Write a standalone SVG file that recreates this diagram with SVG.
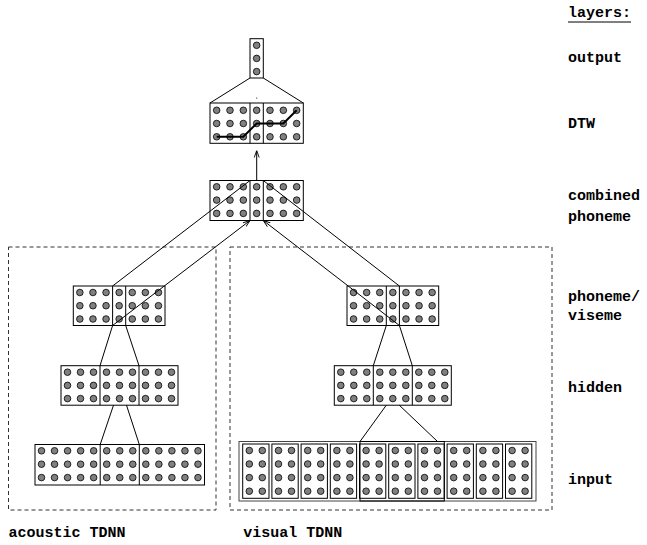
<svg xmlns="http://www.w3.org/2000/svg" xmlns:xlink="http://www.w3.org/1999/xlink" width="647" height="545" viewBox="0 0 647 545">
<style>
.box{fill:#fff;stroke:#000;stroke-width:1}
.div{stroke:#000;stroke-width:1}
.ln{stroke:#000;stroke-width:1;fill:none}
.dash{fill:none;stroke:#333;stroke-width:1;stroke-dasharray:4 3}
.t{font-family:"Liberation Mono","Courier New",monospace;font-weight:bold;font-size:15px;fill:#000}
</style>
<defs>
<marker id="ah" viewBox="0 0 10 10" refX="10" refY="5" markerUnits="userSpaceOnUse" markerWidth="7" markerHeight="7" orient="auto">
<path d="M0,1.5 L10,5 L0,8.5" fill="none" stroke="#000" stroke-width="1.3"/>
</marker>
<g id="r7a" fill="#808080" stroke="#000" stroke-width="0.8">
<circle cx="0" cy="0" r="3.3"/><circle cx="13.33" cy="0" r="3.3"/><circle cx="26.67" cy="0" r="3.3"/><circle cx="40" cy="0" r="3.3"/><circle cx="53.33" cy="0" r="3.3"/><circle cx="66.67" cy="0" r="3.3"/><circle cx="80" cy="0" r="3.3"/>
</g>
<g id="r7b" fill="#808080" stroke="#000" stroke-width="0.8">
<circle cx="0" cy="0" r="3.3"/><circle cx="13.1" cy="0" r="3.3"/><circle cx="26.2" cy="0" r="3.3"/><circle cx="39.3" cy="0" r="3.3"/><circle cx="52.4" cy="0" r="3.3"/><circle cx="65.5" cy="0" r="3.3"/><circle cx="78.6" cy="0" r="3.3"/>
</g>
<g id="r9" fill="#808080" stroke="#000" stroke-width="0.8">
<circle cx="0" cy="0" r="3.3"/><circle cx="13" cy="0" r="3.3"/><circle cx="26" cy="0" r="3.3"/><circle cx="39" cy="0" r="3.3"/><circle cx="52" cy="0" r="3.3"/><circle cx="65" cy="0" r="3.3"/><circle cx="78" cy="0" r="3.3"/><circle cx="91" cy="0" r="3.3"/><circle cx="104" cy="0" r="3.3"/>
</g>
<g id="r13" fill="#808080" stroke="#000" stroke-width="0.8">
<circle cx="0" cy="0" r="3.3"/><circle cx="13.04" cy="0" r="3.3"/><circle cx="26.08" cy="0" r="3.3"/><circle cx="39.12" cy="0" r="3.3"/><circle cx="52.16" cy="0" r="3.3"/><circle cx="65.2" cy="0" r="3.3"/><circle cx="78.24" cy="0" r="3.3"/><circle cx="91.28" cy="0" r="3.3"/><circle cx="104.32" cy="0" r="3.3"/><circle cx="117.36" cy="0" r="3.3"/><circle cx="130.4" cy="0" r="3.3"/><circle cx="143.44" cy="0" r="3.3"/><circle cx="156.48" cy="0" r="3.3"/>
</g>
<g id="sub">
<rect x="0" y="0" width="26.3" height="54.3" fill="#fff" stroke="#000" stroke-width="1"/>
<g fill="#808080" stroke="#000" stroke-width="0.8">
<circle cx="6.6" cy="6.5" r="3.3"/><circle cx="19.6" cy="6.5" r="3.3"/>
<circle cx="6.6" cy="20" r="3.3"/><circle cx="19.6" cy="20" r="3.3"/>
<circle cx="6.6" cy="33.6" r="3.3"/><circle cx="19.6" cy="33.6" r="3.3"/>
<circle cx="6.6" cy="47.2" r="3.3"/><circle cx="19.6" cy="47.2" r="3.3"/>
</g>
</g>
</defs>

<rect x="0" y="0" width="647" height="545" fill="#fff"/>

<g id="acoustic-tdnn">
<rect class="dash" x="8.5" y="247" width="207.5" height="263"/>
<text class="t" x="8.5" y="536.5">acoustic TDNN</text>
</g>
<g id="visual-tdnn">
<rect class="dash" x="230" y="247" width="322" height="263"/>
<text class="t" x="243.3" y="536.5">visual TDNN</text>
</g>

<g id="output">
<rect class="box" x="250" y="38.7" width="13.3" height="39.3"/>
<g fill="#808080" stroke="#000" stroke-width="0.8">
<circle cx="256.65" cy="45.3" r="3.3"/><circle cx="256.65" cy="58.4" r="3.3"/><circle cx="256.65" cy="71.6" r="3.3"/>
</g>
</g>

<g id="dtw">
<rect class="box" x="210" y="103" width="93.3" height="40.3"/>
<line class="div" x1="250" y1="103" x2="250" y2="143.3"/>
<line class="div" x1="263.3" y1="103" x2="263.3" y2="143.3"/>
<use xlink:href="#r7a" x="216.67" y="110.3"/>
<use xlink:href="#r7a" x="216.67" y="123.5"/>
<use xlink:href="#r7a" x="216.67" y="136.8"/>
<polyline points="216.67,136.8 230,136.8 243.33,136.8 256.67,123.5 270,123.5 283.33,123.5 296.67,110.3" fill="none" stroke="#000" stroke-width="2"/>
<circle cx="256.7" cy="98" r="0.6" fill="#000"/>
</g>

<g id="combined">
<rect class="box" x="210" y="180.5" width="93.3" height="40"/>
<line class="div" x1="250" y1="180.5" x2="250" y2="220.5"/>
<line class="div" x1="263.3" y1="180.5" x2="263.3" y2="220.5"/>
<use xlink:href="#r7a" x="216.67" y="186.8"/>
<use xlink:href="#r7a" x="216.67" y="200.1"/>
<use xlink:href="#r7a" x="216.67" y="213.4"/>
</g>

<g id="acoustic-phoneme">
<rect class="box" x="73.3" y="286" width="91.7" height="39.5"/>
<line class="div" x1="112.6" y1="286" x2="112.6" y2="325.5"/>
<line class="div" x1="125.7" y1="286" x2="125.7" y2="325.5"/>
<use xlink:href="#r7b" x="79.85" y="292.5"/>
<use xlink:href="#r7b" x="79.85" y="305.7"/>
<use xlink:href="#r7b" x="79.85" y="319"/>
</g>

<g id="acoustic-hidden">
<rect class="box" x="61" y="365.7" width="117" height="39.5"/>
<line class="div" x1="100" y1="365.7" x2="100" y2="405.2"/>
<line class="div" x1="139" y1="365.7" x2="139" y2="405.2"/>
<use xlink:href="#r9" x="67.5" y="372.2"/>
<use xlink:href="#r9" x="67.5" y="385.4"/>
<use xlink:href="#r9" x="67.5" y="398.6"/>
</g>

<g id="acoustic-input">
<rect class="box" x="35" y="444.5" width="169.5" height="40.5"/>
<line class="div" x1="100.2" y1="444.5" x2="100.2" y2="485"/>
<line class="div" x1="139.3" y1="444.5" x2="139.3" y2="485"/>
<use xlink:href="#r13" x="41.5" y="450.8"/>
<use xlink:href="#r13" x="41.5" y="464.2"/>
<use xlink:href="#r13" x="41.5" y="477.6"/>
</g>

<g id="visual-phoneme">
<rect class="box" x="347" y="286" width="91.7" height="39.5"/>
<line class="div" x1="386.3" y1="286" x2="386.3" y2="325.5"/>
<line class="div" x1="399.4" y1="286" x2="399.4" y2="325.5"/>
<use xlink:href="#r7b" x="353.55" y="292.5"/>
<use xlink:href="#r7b" x="353.55" y="305.7"/>
<use xlink:href="#r7b" x="353.55" y="319"/>
</g>

<g id="visual-hidden">
<rect class="box" x="334.3" y="365.7" width="117" height="39.5"/>
<line class="div" x1="373.3" y1="365.7" x2="373.3" y2="405.2"/>
<line class="div" x1="412.3" y1="365.7" x2="412.3" y2="405.2"/>
<use xlink:href="#r9" x="340.8" y="372.2"/>
<use xlink:href="#r9" x="340.8" y="385.4"/>
<use xlink:href="#r9" x="340.8" y="398.6"/>
</g>

<g id="visual-input">
<rect x="239" y="441.5" width="297" height="59.5" fill="#fff" stroke="#444" stroke-width="1"/>
<use xlink:href="#sub" x="242.7" y="444"/>
<use xlink:href="#sub" x="271.9" y="444"/>
<use xlink:href="#sub" x="301.1" y="444"/>
<use xlink:href="#sub" x="330.3" y="444"/>
<use xlink:href="#sub" x="359.5" y="444"/>
<use xlink:href="#sub" x="388.7" y="444"/>
<use xlink:href="#sub" x="417.9" y="444"/>
<use xlink:href="#sub" x="447.1" y="444"/>
<use xlink:href="#sub" x="476.3" y="444"/>
<use xlink:href="#sub" x="505.5" y="444"/>
<rect x="360" y="441.5" width="84.3" height="59.5" fill="none" stroke="#000" stroke-width="1"/>
</g>

<g id="connectors">
<line class="ln" x1="250" y1="78" x2="210" y2="103"/>
<line class="ln" x1="263.3" y1="78" x2="303.3" y2="103"/>
<line class="ln" x1="256.7" y1="180.5" x2="256.7" y2="150.5" marker-end="url(#ah)"/>
<line class="ln" x1="112.6" y1="286" x2="250" y2="180.5"/>
<line class="ln" x1="112.6" y1="325.5" x2="250" y2="220.5" marker-end="url(#ah)"/>
<line class="ln" x1="399.4" y1="286" x2="263.3" y2="180.5"/>
<line class="ln" x1="399.4" y1="325.5" x2="263.3" y2="220.5" marker-end="url(#ah)"/>
<line class="ln" x1="112.6" y1="325.5" x2="100" y2="365.7"/>
<line class="ln" x1="125.7" y1="325.5" x2="139" y2="365.7"/>
<line class="ln" x1="113.5" y1="405.2" x2="100.2" y2="444.5"/>
<line class="ln" x1="126.5" y1="405.2" x2="139.3" y2="444.5"/>
<line class="ln" x1="386.3" y1="325.5" x2="373.3" y2="365.7"/>
<line class="ln" x1="399.4" y1="325.5" x2="412.3" y2="365.7"/>
<line class="ln" x1="386.3" y1="405.2" x2="360" y2="441.5"/>
<line class="ln" x1="399.3" y1="405.2" x2="437.5" y2="441.5"/>
</g>

<g id="layer-labels">
<text class="t" x="568" y="17">layers:</text>
<line x1="568" y1="22" x2="631" y2="22" stroke="#000" stroke-width="1"/>
<text class="t" x="568" y="61.5">output</text>
<text class="t" x="568" y="127.5">DTW</text>
<text class="t" x="568" y="200">combined</text>
<text class="t" x="568" y="220.5">phoneme</text>
<text class="t" x="568" y="300.5">phoneme/</text>
<text class="t" x="568" y="319.5">viseme</text>
<text class="t" x="568" y="391.5">hidden</text>
<text class="t" x="568" y="484">input</text>
</g>
</svg>
